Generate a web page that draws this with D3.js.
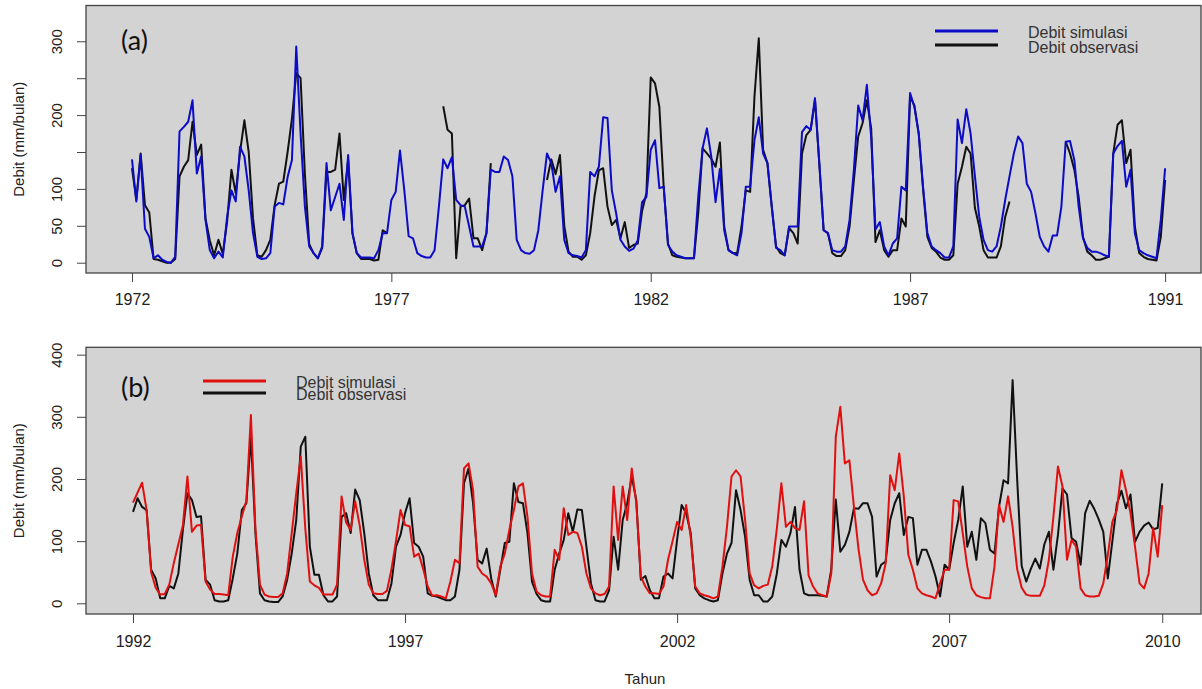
<!DOCTYPE html>
<meta charset="utf-8">
<style>
body { margin: 0; background: #fff; }
text { font-family: "Liberation Sans", Arial, sans-serif; fill: #222; }
.tag { font-family: Lato, "Open Sans", sans-serif; font-size: 27px; fill: #111; }
.legend text { font-size: 16px; fill: #333; }
.axis text { font-size: 16px; }
.axis.y text { font-size: 15px; }
.axis line { stroke: #444; }
.axis path { display: none; }
.series { fill: none; stroke-width: 2px; stroke-linejoin: round; }
</style>
<svg width="1202" height="689"></svg>
<script src="https://d3js.org/d3.v7.min.js"></script>
<script>
// monthly discharge (mm/bulan), index 0 = January of the first year
var simA = [
  140, 83, 146, 46, 35, 6, 10, 4, 1, 0, 8, 178,
  184, 191, 220, 121, 144, 58, 17, 6, 15, 7, 62, 98,
  83, 157, 144, 98, 40, 8, 5, 6, 13, 76, 81, 79,
  116, 139, 293, 175, 76, 22, 13, 6, 22, 135, 71, 89,
  107, 58, 146, 40, 13, 7, 7, 7, 6, 17, 40, 40,
  85, 96, 152, 98, 36, 33, 13, 9, 7, 7, 17, 76,
  140, 128, 143, 85, 78, 76, 49, 22, 22, 22, 40, 126,
  123, 123, 144, 139, 117, 31, 17, 13, 12, 17, 44, 98,
  148, 135, 96, 117, 31, 13, 10, 9, 7, 17, 123, 117,
  130, 197, 196, 98, 67, 31, 22, 16, 19, 30, 82, 89,
  153, 166, 101, 103, 24, 15, 10, 8, 6, 6, 6, 90,
  155, 182, 144, 82, 127, 44, 17, 13, 10, 40, 103, 103,
  166, 197, 148, 135, 76, 20, 17, 10, 49, 49, 49, 177,
  185, 180, 223, 135, 44, 40, 17, 15, 15, 22, 58, 126,
  213, 193, 241, 170, 45, 55, 22, 10, 26, 33, 103, 98,
  230, 211, 175, 103, 40, 22, 17, 13, 7, 7, 22, 194,
  162, 208, 175, 117, 62, 31, 17, 15, 22, 49, 85, 117,
  148, 171, 162, 107, 96, 67, 35, 22, 15, 37, 37, 76,
  164, 165, 139, 76, 33, 20, 15, 15, 13, 10, 8, 148,
  158, 165, 103, 126, 40, 17, 13, 10, 8, 6, 58, 128
];
var N = null;
var obsA = [
  128, 85, 148, 78, 68, 5, 4, 2, 0, 0, 5, 117,
  130, 139, 191, 146, 160, 60, 30, 10, 31, 12, 55, 126,
  94, 150, 193, 150, 60, 10, 8, 17, 31, 78, 107, 110,
  150, 195, 257, 250, 120, 25, 13, 6, 20, 123, 123, 126,
  175, 85, 140, 40, 13, 5, 5, 5, 3, 4, 44, 40,
  N, N, N, N, N, N, N, N, N, N, N, N,
  212, 180, 175, 6, 76, 78, 87, 33, 33, 17, 40, 135,
  N, N, N, N, N, N, N, N, N, N, N, N,
  112, 140, 120, 146, 50, 15, 8, 8, 4, 10, 40, 90,
  125, 128, 76, 51, 58, 33, 55, 20, 24, 26, 70, 94,
  251, 243, 211, 103, 26, 10, 8, 7, 6, 6, 6, 67,
  155, 148, 141, 130, 163, 49, 17, 13, 13, 49, 98, 96,
  225, 304, 153, 135, 76, 22, 13, 10, 47, 40, 26, 148,
  173, 180, 220, 135, 44, 40, 13, 9, 9, 17, 49, 112,
  171, 189, 220, 182, 28, 44, 17, 8, 17, 17, 60, 49,
  225, 213, 175, 100, 35, 20, 15, 7, 4, 4, 10, 107,
  130, 157, 148, 74, 49, 17, 7, 7, 7, 22, 62, 83,
  N, N, N, N, N, N, N, N, N, N, N, N,
  164, 148, 126, 89, 35, 15, 10, 4, 4, 6, 8, 148,
  187, 193, 135, 153, 49, 13, 8, 5, 4, 3, 35, 112
];

var simB = [
  162, 178, 194, 150, 50, 25, 14, 15, 30, 65, 95, 125,
  204, 115, 125, 126, 35, 22, 15, 15, 14, 13, 75, 113,
  140, 165, 303, 120, 30, 14, 11, 10, 10, 16, 48, 113,
  177, 236, 120, 35, 29, 25, 14, 14, 14, 30, 172, 130,
  118, 164, 125, 70, 30, 16, 15, 15, 20, 55, 100, 150,
  126, 124, 75, 80, 55, 27, 12, 13, 11, 8, 35, 70,
  64, 217, 225, 182, 59, 48, 43, 32, 13, 59, 80, 118,
  150, 188, 193, 139, 48, 19, 13, 11, 11, 86, 70, 153,
  110, 115, 113, 91, 48, 24, 16, 13, 15, 27, 188, 102,
  188, 134, 217, 161, 43, 27, 16, 16, 15, 27, 70, 100,
  131, 118, 158, 107, 27, 16, 13, 11, 8, 11, 59, 123,
  204, 214, 204, 134, 48, 29, 24, 28, 30, 60, 120, 193,
  123, 131, 121, 118, 164, 45, 27, 16, 13, 11, 48, 268,
  316, 225, 230, 155, 88, 38, 21, 13, 16, 32, 64, 206,
  182, 241, 172, 78, 54, 24, 16, 13, 11, 8, 32, 54,
  54, 166, 164, 113, 59, 24, 13, 10, 8, 8, 59, 158,
  131, 172, 123, 55, 25, 14, 12, 12, 12, 29, 70, 139,
  220, 188, 70, 102, 91, 24, 13, 11, 11, 12, 32, 78,
  131, 150, 214, 182, 145, 91, 32, 24, 48, 121, 75, 158
];
var obsB = [
  147, 169, 155, 150, 54, 40, 8, 8, 28, 24, 48, 118,
  177, 166, 139, 140, 38, 30, 5, 3, 3, 5, 40, 80,
  150, 161, 268, 113, 16, 5, 3, 2, 2, 11, 38, 80,
  134, 252, 268, 91, 46, 46, 13, 3, 3, 11, 139, 145,
  113, 183, 166, 113, 48, 13, 5, 5, 5, 32, 91, 110,
  145, 169, 97, 91, 75, 16, 12, 11, 8, 5, 5, 11,
  54, 193, 217, 161, 70, 64, 88, 40, 11, 54, 97, 99,
  193, 163, 161, 113, 35, 15, 5, 3, 3, 54, 80, 102,
  145, 115, 151, 150, 91, 32, 5, 3, 3, 21, 107, 54,
  134, 161, 204, 166, 38, 44, 21, 8, 8, 43, 48, 40,
  102, 158, 145, 113, 24, 13, 8, 5, 3, 5, 48, 80,
  97, 182, 150, 107, 38, 13, 13, 3, 3, 11, 48, 102,
  91, 113, 155, 54, 16, 13, 13, 13, 12, 11, 54, 167,
  83, 94, 115, 153, 152, 161, 161, 139, 43, 62, 67, 134,
  161, 177, 110, 139, 137, 62, 86, 86, 67, 43, 11, 62,
  54, 97, 134, 188, 91, 115, 70, 137, 129, 86, 80, 155,
  198, 193, 359, 200, 60, 35, 55, 72, 56, 95, 115, 54,
  110, 185, 175, 105, 99, 62, 145, 165, 152, 135, 115, 40,
  100, 160, 181, 153, 175, 99, 115, 125, 130, 119, 121, 193
];

// x tick labels and the month index they sit on
var yearsA = ["1972", "1977", "1982", "1987", "1991"];
var yearIdxA = [0, 60, 120, 180, 239];
var yearsB = ["1992", "1997", "2002", "2007", "2010"];
var yearIdxB = [0, 60, 120, 180, 227];

var yTicksA = [0, 50, 100, 150, 200, 250, 300];
var yLabelsA = [0, 50, 100, 200, 300];
var yTicksB = [0, 100, 200, 300, 400];
var yLabelsB = [0, 100, 200, 300, 400];

var seriesNames = ["Debit simulasi", "Debit observasi"];

var svg = d3.select("svg"),
    left = 86,
    right = 1201;

function panel(o) {
  var x = d3.scaleLinear().domain(o.xdom).range([left, right]),
      y = d3.scaleLinear().domain(o.ydom).range([o.bottom, o.top]);

  var g = svg.append("g");

  g.append("rect")
      .attr("x", left).attr("y", o.top)
      .attr("width", right - left).attr("height", o.bottom - o.top)
      .attr("fill", "#d3d3d3");

  var line = d3.line()
      .defined(function(d) { return d != null; })
      .x(function(d, i) { return x(i); })
      .y(function(d) { return y(d); });

  g.append("path").attr("class", "series")
      .attr("stroke", "#111")
      .attr("d", line(o.obs));
  g.append("path").attr("class", "series")
      .attr("stroke", o.color)
      .attr("d", line(o.sim));

  g.append("rect")
      .attr("x", left).attr("y", o.top)
      .attr("width", right - left).attr("height", o.bottom - o.top)
      .attr("fill", "none").attr("stroke", "#444").attr("stroke-width", 1.3);

  g.append("g")
      .attr("class", "axis x")
      .attr("transform", "translate(0," + o.bottom + ")")
      .call(d3.axisBottom(x)
          .tickValues(o.yearIdx)
          .tickFormat(function(d, i) { return o.years[i]; })
          .tickSize(9)
          .tickPadding(o.xpad));

  var ya = g.append("g")
      .attr("class", "axis y")
      .attr("transform", "translate(" + left + ",0)")
      .call(d3.axisLeft(y)
          .tickValues(o.yTicks)
          .tickFormat(function(d) { return o.yLabels.indexOf(d) >= 0 ? d : ""; })
          .tickSize(9));
  ya.selectAll(".tick text")
      .attr("x", null).attr("dy", null)
      .attr("text-anchor", "middle")
      .attr("transform", "translate(-24,0) rotate(-90)");

  svg.append("text")
      .attr("transform", "translate(24," + (o.top + o.bottom) / 2 + ") rotate(-90)")
      .attr("text-anchor", "middle")
      .style("font-size", "15px")
      .text("Debit (mm/bulan)");

  svg.append("text").attr("class", "tag")
      .attr("x", 121).attr("y", o.tagY)
      .text(o.tag);

  var lg = svg.append("g").attr("class", "legend");
  [o.color, "#111"].forEach(function(c, i) {
    lg.append("line")
        .attr("x1", o.legX).attr("x2", o.legX + 63)
        .attr("y1", o.legLines[i]).attr("y2", o.legLines[i])
        .attr("stroke", c).attr("stroke-width", 3);
    lg.append("text")
        .attr("x", o.legX + 93)
        .attr("y", o.legText[i])
        .text(seriesNames[i]);
  });
}

panel({
  sim: simA, obs: obsA, color: "#0c0cc8",
  xdom: [-10.64, 247.3], ydom: [-13.96, 348.5],
  top: 5.5, bottom: 273, xpad: 12,
  years: yearsA, yearIdx: yearIdxA, yTicks: yTicksA, yLabels: yLabelsA,
  tag: "(a)", tagY: 50,
  legX: 935, legLines: [31, 45], legText: [37.5, 53]
});

panel({
  sim: simB, obs: obsB, color: "#e01010",
  xdom: [-10.37, 235.55], ydom: [-17.2, 411.8],
  top: 347.3, bottom: 614, xpad: 13,
  years: yearsB, yearIdx: yearIdxB, yTicks: yTicksB, yLabels: yLabelsB,
  tag: "(b)", tagY: 397,
  legX: 203, legLines: [381, 393], legText: [388, 400]
});

svg.append("text")
    .attr("x", 645).attr("y", 684)
    .attr("text-anchor", "middle")
    .style("font-size", "15px")
    .text("Tahun");
</script>
